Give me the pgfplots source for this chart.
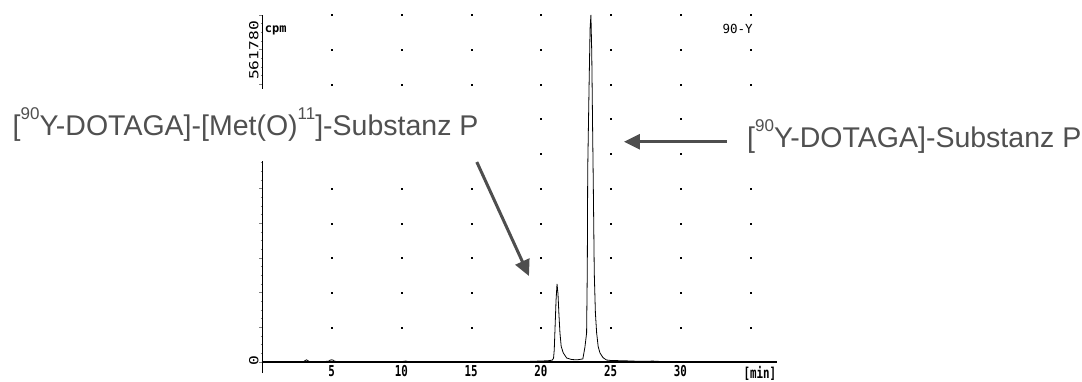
\documentclass[border=0pt]{standalone}
\usepackage{pgfplots}
\pgfplotsset{compat=1.18}
\usepackage{fontspec}
\setmainfont{Liberation Sans}
\newfontfamily\mono[FakeStretch=0.72]{DejaVu Sans Mono}
\newfontfamily\monoplain{DejaVu Sans Mono}
\newfontfamily\monowide[FakeStretch=1.3]{DejaVu Sans Mono}
\usetikzlibrary{arrows.meta}
\definecolor{lblgray}{RGB}{80,80,80}
\definecolor{arrgray}{RGB}{78,78,78}
\newcommand{\sups}[1]{\raisebox{16pt}{\fontsize{17}{17}\selectfont #1}}
\begin{document}
\begin{tikzpicture}
\useasboundingbox (0,0) rectangle (1082pt,381pt);
\begin{axis}[
  at={(262pt,8pt)}, anchor=south west,
  scale only axis, width=515pt, height=358pt,
  xmin=0, xmax=36.92, ymin=-17809, ymax=561780,
  axis x line*=middle, axis y line*=left,
  axis line style={-},
  x axis line style={line width=1.6pt},
  y axis line style={line width=0.8pt},
  scaled y ticks=false, scaled x ticks=false,
  xtick={5,10,15,20,25,30},
  xticklabels={5,10,15,20,25,30},
  xticklabel style={font=\mono\bfseries\fontsize{15}{15}\selectfont, anchor=north, inner sep=0pt, yshift=0pt},
  ytick={0,56178,112356,168534,224712,280890,337068,393246,449424,505602,561780},
  yticklabels={},
  minor y tick num=3,
  tick align=outside,
  major tick length=3pt, minor tick length=1.5pt,
  xtick style={draw=none},
  ytick style={line width=0.6pt},
  clip=false,
]
% grid dots
\addplot[only marks, mark=square*, mark size=0.5pt, black] coordinates {
(5,56178)(10,56178)(15,56178)(20,56178)(25,56178)(30,56178)(35,56178)
(5,112356)(10,112356)(15,112356)(20,112356)(25,112356)(30,112356)(35,112356)
(5,168534)(10,168534)(15,168534)(20,168534)(25,168534)(30,168534)(35,168534)
(5,224712)(10,224712)(15,224712)(20,224712)(25,224712)(30,224712)(35,224712)
(5,280890)(10,280890)(15,280890)(20,280890)(25,280890)(30,280890)(35,280890)
(5,337068)(10,337068)(15,337068)(20,337068)(25,337068)(30,337068)(35,337068)
(5,393246)(10,393246)(15,393246)(20,393246)(25,393246)(30,393246)(35,393246)
(5,449424)(10,449424)(15,449424)(20,449424)(25,449424)(30,449424)(35,449424)
(5,505602)(10,505602)(15,505602)(20,505602)(25,505602)(30,505602)(35,505602)
(5,561780)(10,561780)(15,561780)(20,561780)(25,561780)(30,561780)(35,561780)
};
% chromatogram
\addplot[black, line width=0.8pt] coordinates {
(0,0)(0.5,300)(1,500)(1.5,200)(2,600)(2.5,400)(3.0,800)(3.1,2500)(3.2,3500)(3.3,2000)(3.4,600)
(4,400)(4.5,700)(4.8,1500)(4.9,3200)(5.0,3500)(5.1,3000)(5.2,1200)(5.5,500)(6,300)(6.5,600)
(7,400)(7.5,500)(8,300)(8.5,700)(9,400)(9.5,600)(10,500)(10.3,1600)(10.5,600)(11,400)
(11.5,800)(12,500)(12.5,900)(13,600)(13.5,800)(14,500)(14.5,700)(15,600)(15.5,500)(16,700)
(16.5,400)(17,600)(17.5,500)(18,700)(18.5,600)(19,800)(19.5,1200)(20,1600)(20.5,2000)(20.8,3000)
(20.9,6000)(20.95,19400)(21.0,50000)(21.08,100000)(21.15,126400)(21.22,110000)(21.28,80000)
(21.36,47000)(21.45,25000)(21.6,14600)(21.84,6500)(22.2,4000)(22.6,3500)(23.0,5000)
(23.15,24000)(23.27,47000)(23.32,150000)(23.35,311000)(23.45,450000)(23.52,540000)(23.58,561780)
(23.64,500000)(23.7,380000)(23.75,287000)(23.82,144000)(23.9,80000)(23.99,47000)(24.1,25000)
(24.23,14600)(24.45,7000)(24.7,3200)(25.0,2500)(25.5,2200)(26,2000)(26.5,1500)(27,1200)
(27.5,1000)(28,1500)(28.5,900)(29,700)(29.5,600)(30,500)(31,400)(32,600)(33,300)(34,400)
(35,300)(36,200)(36.9,200)
};
\node[font=\monowide\fontsize{12.5}{12.5}\selectfont, rotate=90, anchor=south] at (axis cs:0,509200) [xshift=-3pt] {561780};
\node[font=\monowide\fontsize{12.5}{12.5}\selectfont, rotate=90, anchor=south] at (axis cs:0,6500) [xshift=-3pt] {0};
\node[font=\monoplain\bfseries\fontsize{12}{12}\selectfont, anchor=west, inner sep=0pt] at (axis cs:0.2,537500) {cpm};
\node[font=\monoplain\fontsize{12.5}{12.5}\selectfont, inner sep=0pt] at (axis cs:34.1,539100) {90-Y};
\node[font=\mono\bfseries\fontsize{15}{15}\selectfont, anchor=north, inner sep=0pt] at (axis cs:35.7,0) [yshift=-4.5pt] {[min]};
\coordinate (LL) at (axis cs:-18.6,365900);
\coordinate (RL) at (axis cs:34.05,346500);
\coordinate (A1s) at (axis cs:15.4,323800);
\coordinate (A1e) at (axis cs:19.14,139200);
\coordinate (A2s) at (axis cs:33.3,356600);
\coordinate (A2e) at (axis cs:25.95,356600);
\end{axis}
\node[anchor=base west, fill=white, inner xsep=10pt, inner ysep=19pt, text=lblgray,
      font=\fontsize{28.5}{30}\selectfont] at (LL)
  {[\sups{90}Y-DOTAGA]-[Met(O)\sups{11}]-Substanz P};
\node[anchor=base west, fill=white, inner xsep=10pt, inner ysep=19pt, text=lblgray,
      font=\fontsize{28.5}{30}\selectfont] at (RL)
  {[\sups{90}Y-DOTAGA]-Substanz P};
\draw[arrgray, line width=3pt, -{Triangle[length=16pt,width=15pt]}] (A1s) -- (A1e);
\draw[arrgray, line width=3pt, -{Triangle[length=16pt,width=15pt]}] (A2s) -- (A2e);
\end{tikzpicture}
\end{document}
